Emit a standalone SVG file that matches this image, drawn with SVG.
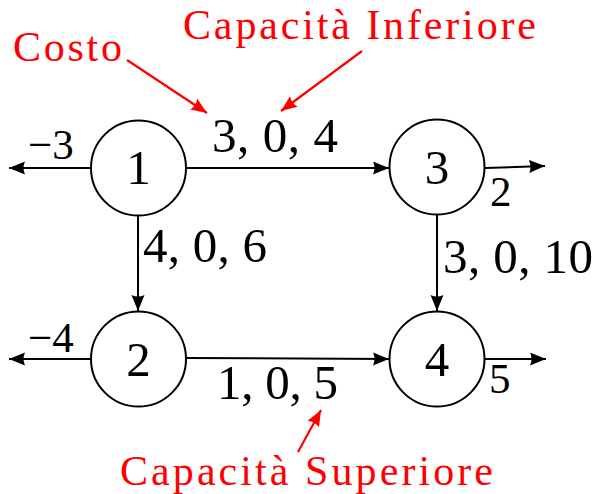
<svg xmlns="http://www.w3.org/2000/svg" width="597" height="494" viewBox="0 0 597 494">
<style>
.node circle{fill:#fff;stroke:#000;stroke-width:2}
text{font-family:'Liberation Serif','DejaVu Serif','Times New Roman',serif}
.lbl{fill:#000}
.nl{font-size:49px;text-anchor:middle}
.el{font-size:49px}
.sl{font-size:43px}
.red{fill:#f00;font-size:42px}
.edge{stroke:#000;stroke-width:2;fill:none;marker-end:url(#ah)}
.rarr{stroke:#f00;stroke-width:2.2;fill:none;marker-end:url(#rh)}
</style>
<defs>
<marker id="ah" markerUnits="userSpaceOnUse" markerWidth="17" markerHeight="14" refX="16" refY="6.5" orient="auto">
<path d="M0,0 L16,6.5 L0,13 Q3,6.5 0,0 z" fill="#000"/>
</marker>
<marker id="rh" markerUnits="userSpaceOnUse" markerWidth="17" markerHeight="14" refX="16" refY="6.5" orient="auto">
<path d="M0,0 L16,6.5 L0,13 Q3,6.5 0,0 z" fill="#f00"/>
</marker>
</defs>
<g id="connectors">
<path class="edge" d="M186,168 L389,168"/>
<path class="edge" d="M91,168 L9,168"/>
<path class="edge" d="M485,168 L545,166"/>
<path class="edge" d="M138,215 L138,311"/>
<path class="edge" d="M437,215 L437,311"/>
<path class="edge" d="M186,358 L389,359"/>
<path class="edge" d="M91,359 L9,359"/>
<path class="edge" d="M485,359 L546,359"/>
<text class="lbl el" x="212" y="152" textLength="126" lengthAdjust="spacing">3, 0, 4</text>
<text class="lbl el" x="143" y="262" textLength="124" lengthAdjust="spacing">4, 0, 6</text>
<text class="lbl el" x="443" y="273" textLength="150" lengthAdjust="spacing">3, 0, 10</text>
<text class="lbl el" x="217" y="399" textLength="121" lengthAdjust="spacing">1, 0, 5</text>
</g>
<g id="n1" class="node"><circle cx="138.5" cy="168" r="47.5"/><text class="lbl nl" x="138.5" y="184">1</text><text class="lbl sl" x="28" y="159">−3</text></g>
<g id="n3" class="node"><circle cx="437" cy="167" r="47.5"/><text class="lbl nl" x="437" y="184">3</text><text class="lbl sl" x="490" y="206">2</text></g>
<g id="n2" class="node"><circle cx="138.5" cy="359" r="47.5"/><text class="lbl nl" x="138.5" y="376">2</text><text class="lbl sl" x="28" y="352">−4</text></g>
<g id="n4" class="node"><circle cx="437" cy="359" r="47.5"/><text class="lbl nl" x="437" y="376">4</text><text class="lbl sl" x="489" y="393">5</text></g>
<g id="annotations">
<text class="red" x="13" y="61" textLength="109" lengthAdjust="spacing">Costo</text>
<text class="red" x="183" y="39" textLength="353" lengthAdjust="spacing">Capacità Inferiore</text>
<text class="red" x="120" y="485" textLength="373" lengthAdjust="spacing">Capacità Superiore</text>
<path class="rarr" d="M127,60 L207,113"/>
<path class="rarr" d="M362,51 L281,111"/>
<path class="rarr" d="M298,452 L321,410"/>
</g>
</svg>
